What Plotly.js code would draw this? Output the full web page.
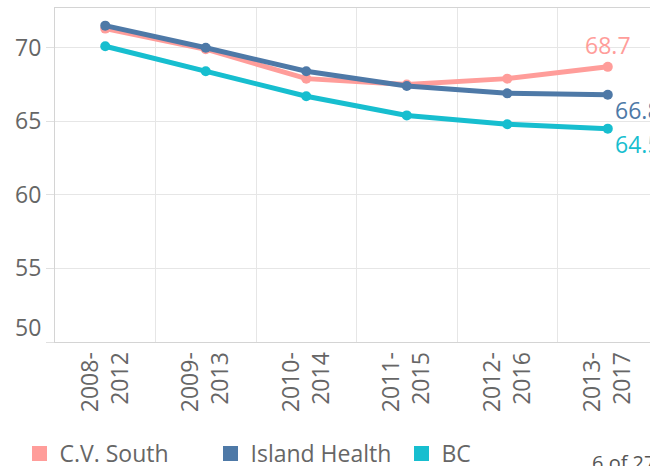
<!DOCTYPE html>
<html>
<head>
<meta charset="utf-8">
<script src="https://cdn.plot.ly/plotly-3.0.1.min.js"></script>
<style>html,body{margin:0;padding:0;background:#fff;}#chart{width:650px;height:466px;}</style>
</head>
<body>
<div id="chart"></div>
<script>
const periods = ["2008-<br>2012","2009-<br>2013","2010-<br>2014","2011-<br>2015","2012-<br>2016","2013-<br>2017"];
const cvSouth = [71.3, 69.9, 67.9, 67.5, 67.9, 68.7];
const islandHealth = [71.5, 70.0, 68.4, 67.4, 66.9, 66.8];
const bc = [70.1, 68.4, 66.7, 65.4, 64.8, 64.5];
const seriesNames = ["C.V. South", "Island Health", "BC"];
const colors = ["#ff9d9a", "#4e79a7", "#17becf"];
const yTicks = [50, 55, 60, 65, 70];

const FONT = "Open Sans, Noto Sans, sans-serif";
const series = [cvSouth, islandHealth, bc];
const textPos = ["top center", "bottom right", "bottom right"];

const traces = [];
series.forEach((vals, k) => {
  traces.push({
    type: "scatter", mode: "lines+markers+text",
    x: periods, y: vals,
    name: seriesNames[k], showlegend: false,
    line: {color: colors[k], width: 5},
    marker: {color: colors[k], size: 10},
    text: vals.map((v, i) => i === vals.length - 1 ? v.toFixed(1) : ""),
    textposition: textPos[k],
    textfont: {family: FONT, size: 23, color: colors[k]},
    cliponaxis: false,
    hoverinfo: "skip"
  });
});
seriesNames.forEach((n, k) => {
  traces.push({
    type: "scatter", mode: "markers", x: [null], y: [null],
    name: n, showlegend: true,
    marker: {color: colors[k], symbol: "square", size: 15}
  });
});

const layout = {
  width: 650, height: 466,
  margin: {l: 55, r: 0, t: 8, b: 124},
  paper_bgcolor: "#fff", plot_bgcolor: "#fff",
  font: {family: FONT, color: "#666", size: 23},
  xaxis: {
    type: "category", range: [-0.5, 5.42],
    tickson: "boundaries", ticks: "",
    showgrid: true, gridcolor: "#e6e6e6", gridwidth: 1,
    showline: true, linecolor: "#d4d4d4", linewidth: 1, mirror: true,
    tickangle: -90, tickfont: {family: FONT, size: 23, color: "#666"},
    zeroline: false, fixedrange: true
  },
  yaxis: {
    range: [50, 72.7],
    tickvals: yTicks, ticktext: yTicks.map(v => v === 50 ? "" : String(v)),
    ticks: "outside", ticklen: 8, tickcolor: "#e0e0e0",
    showgrid: true, gridcolor: "#e6e6e6", gridwidth: 1,
    showline: true, linecolor: "#d4d4d4", linewidth: 1,
    tickfont: {family: FONT, size: 23, color: "#666"},
    zeroline: false, fixedrange: true
  },
  legend: {
    orientation: "h", xref: "container", yref: "container",
    x: 0.03, y: 0.073, xanchor: "left", yanchor: "top",
    entrywidth: 146, entrywidthmode: "pixels",
    font: {family: FONT, size: 23, color: "#666"},
    itemclick: false, itemdoubleclick: false
  },
  annotations: [
    {text: String(yTicks[0]), xref: "paper", x: 0, xanchor: "right", xshift: -12,
     yref: "y", y: yTicks[0], yanchor: "middle", yshift: 15, showarrow: false,
     font: {family: FONT, size: 23, color: "#666"}},
    {text: "6 of 27", xref: "paper", x: (590 - 55) / 595, xanchor: "left",
     yref: "paper", y: -0.315, yanchor: "top", showarrow: false,
     font: {family: FONT, size: 20, color: "#555"}}
  ],
  showlegend: true
};

Plotly.newPlot("chart", traces, layout, {displayModeBar: false, staticPlot: true});
</script>
</body>
</html>
